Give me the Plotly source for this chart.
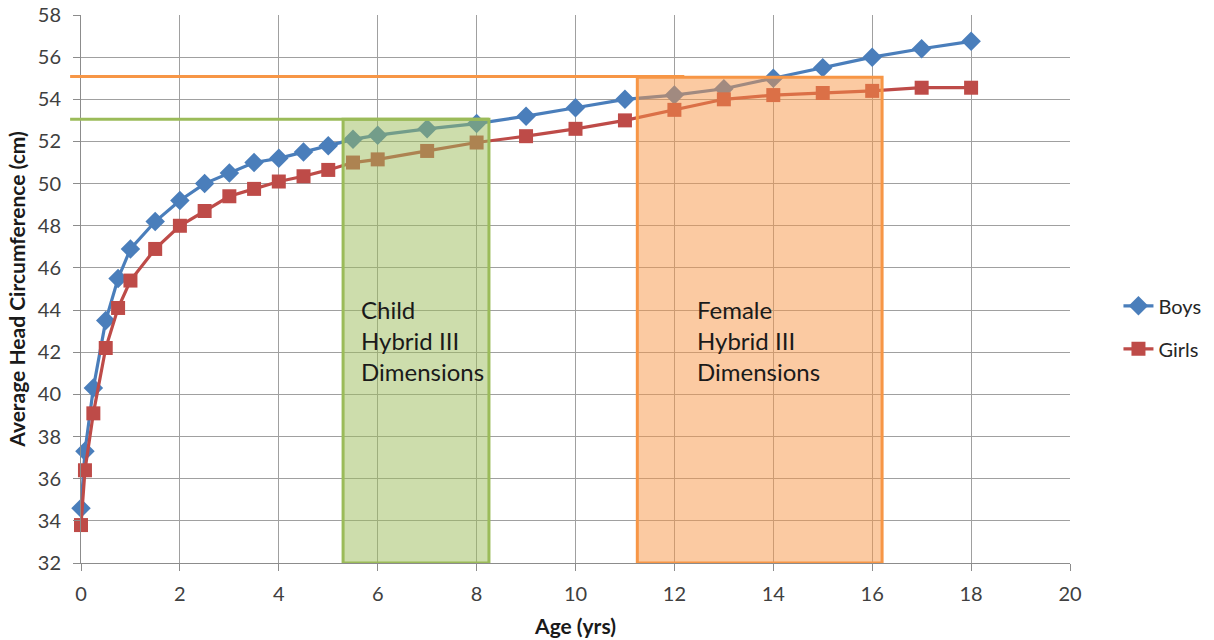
import plotly.graph_objects as go

# Age in years at which head circumference is recorded
ages = [0, 0.08, 0.25, 0.5, 0.75, 1, 1.5, 2, 2.5, 3, 3.5, 4, 4.5, 5, 5.5, 6,
        7, 8, 9, 10, 11, 12, 13, 14, 15, 16, 17, 18]

# Average head circumference (cm)
boys = [34.6, 37.3, 40.3, 43.5, 45.5, 46.9, 48.2, 49.2, 50.0, 50.5, 51.0, 51.2,
        51.5, 51.8, 52.1, 52.3, 52.6, 52.85, 53.2, 53.6, 54.0, 54.2, 54.5, 55.0,
        55.5, 56.0, 56.4, 56.75]
girls = [33.8, 36.4, 39.1, 42.2, 44.1, 45.4, 46.9, 48.0, 48.7, 49.4, 49.75, 50.1,
         50.35, 50.65, 51.0, 51.15, 51.55, 51.95, 52.25, 52.6, 53.0, 53.5, 54.0,
         54.2, 54.3, 54.4, 54.55, 54.55]

# Dummy head ranges: (age from, age to, head circumference)
child_dummy = (5.3, 8.25, 53.05)
female_dummy = (11.25, 16.2, 55.08)
female_line_end = 12.2

x_range = [0, 20]
y_range = [32, 58]
x_ticks = list(range(0, 21, 2))
y_ticks = list(range(32, 59, 2))

FONT = "Lato"
BLUE = "#4A7EBB"
RED = "#BE4B48"
GREEN = "#9BBB59"
ORANGE = "#F79646"

fig = go.Figure()
fig.add_trace(go.Scatter(
    x=ages, y=boys, name="Boys", mode="lines+markers", cliponaxis=False,
    legendgroup="boys",
    line=dict(color=BLUE, width=3.2),
    marker=dict(symbol="diamond", size=15, color=BLUE),
))
fig.add_trace(go.Scatter(
    x=ages, y=girls, name="Girls", mode="lines+markers", cliponaxis=False,
    legendgroup="girls",
    line=dict(color=RED, width=3.2),
    marker=dict(symbol="square", size=14, color=RED),
))

def paper_x(v):
    return (v - x_range[0]) / (x_range[1] - x_range[0])

shapes = [
    # child dummy band
    dict(type="line", xref="paper", yref="y", x0=-0.011, x1=paper_x(child_dummy[1]),
         y0=child_dummy[2], y1=child_dummy[2], line=dict(color=GREEN, width=3)),
    dict(type="rect", xref="x", yref="y", x0=child_dummy[0], x1=child_dummy[1],
         y0=y_range[0], y1=child_dummy[2], fillcolor="rgba(155,187,89,0.5)",
         line=dict(color=GREEN, width=3)),
    # female dummy band
    dict(type="line", xref="paper", yref="y", x0=-0.011, x1=paper_x(female_line_end),
         y0=female_dummy[2], y1=female_dummy[2], line=dict(color=ORANGE, width=3)),
    dict(type="rect", xref="x", yref="y", x0=female_dummy[0], x1=female_dummy[1],
         y0=y_range[0], y1=female_dummy[2] - 0.03, fillcolor="rgba(247,150,70,0.5)",
         line=dict(color=ORANGE, width=3)),
]

annotations = [
    dict(x=5.63, y=42.55, xref="x", yref="y", text="Child<br>Hybrid III<br>Dimensions",
         showarrow=False, xanchor="left", yanchor="middle", align="left",
         font=dict(family=FONT, size=24, color="#1a1a1a")),
    dict(x=12.41, y=42.55, xref="x", yref="y", text="Female<br>Hybrid III<br>Dimensions",
         showarrow=False, xanchor="left", yanchor="middle", align="left",
         font=dict(family=FONT, size=24, color="#1a1a1a")),
]

axis_common = dict(
    showgrid=True, gridcolor="#A0A0A0", gridwidth=1,
    showline=True, linecolor="#8C8C8C", linewidth=1,
    ticks="outside", ticklen=7, tickcolor="#8C8C8C",
    tickfont=dict(family=FONT, size=20, color="#404040"),
    zeroline=False, mirror=False, automargin=False,
)

fig.update_layout(
    width=1214, height=640,
    margin=dict(l=81, r=144, t=15, b=77, autoexpand=False),
    paper_bgcolor="white", plot_bgcolor="white",
    shapes=shapes, annotations=annotations,
    showlegend=True,
    legend=dict(x=1.049, y=0.43, xanchor="left", yanchor="middle",
                font=dict(family=FONT, size=20, color="#262626"),
                bgcolor="rgba(0,0,0,0)", tracegroupgap=14),
    xaxis=dict(range=x_range, tickvals=x_ticks, ticklabelstandoff=6,
               title=dict(text="<b>Age (yrs)</b>", standoff=15,
                          font=dict(family=FONT, size=21, color="#1a1a1a")),
               **axis_common),
    yaxis=dict(range=y_range, tickvals=y_ticks, ticklabelstandoff=8,
               title=dict(text="<b>Average Head Circumference (cm)</b>", standoff=6,
                          font=dict(family=FONT, size=21, color="#1a1a1a")),
               **axis_common),
)

fig.write_html("out.html")
